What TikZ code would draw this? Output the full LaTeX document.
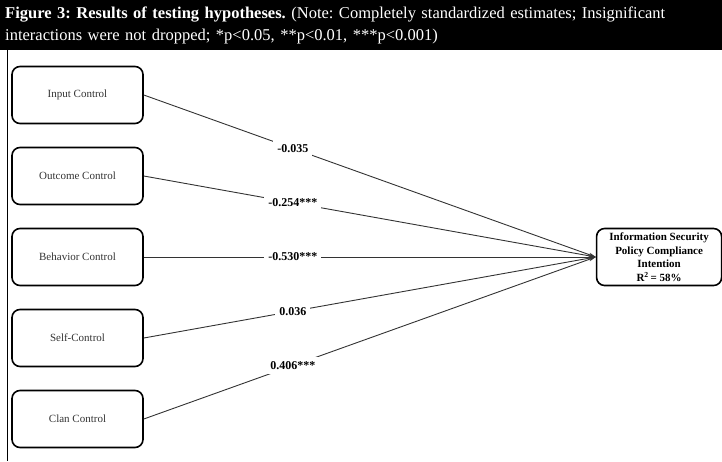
\documentclass[tikz,border=0pt]{standalone}
\usepackage{fontspec}
\setmainfont{Liberation Serif}
\usetikzlibrary{arrows.meta,positioning}

\begin{document}
\frenchspacing
\begin{tikzpicture}[
    x=1pt, y=-1pt,
    node distance=22.4pt,
    every node/.style={font=\fontsize{11}{13}\selectfont, align=center},
    ctrl/.style={
      rectangle, rounded corners=8pt, draw=black, line width=1.6pt,
      minimum width=131pt, minimum height=57pt, text=black!80
    },
    target/.style={
      ctrl, text=black, font=\fontsize{11}{13.5}\selectfont\bfseries,
      minimum width=125pt, inner sep=2pt
    },
    effect/.style={-{Stealth[length=7pt,width=4pt]}, line width=0.9pt, draw=black!80},
    coef/.style={fill=white, font=\fontsize{12}{14}\selectfont\bfseries, inner sep=4pt}
  ]
    \useasboundingbox (0,0) rectangle (722,461);
    \node[anchor=north west, fill=black, text=white, align=left,
      font=\fontsize{16.5}{22}\selectfont, minimum width=722pt, minimum height=50pt,
      text width=712pt, inner xsep=5pt, inner ysep=3pt] (caption) at (0,0)
      {\textbf{Figure 3: Results of testing hypotheses.} (Note: Completely standardized estimates; Insignificant\\
      interactions were not dropped; *p<0.05, **p<0.01, ***p<0.001)};
    \draw[line width=1pt] (7,50) -- (7,461);

    \node[ctrl] (input) at (77.5,95) {Input Control};
    \node[ctrl, below=of input] (outcomectl) {Outcome Control};
    \node[ctrl, below=of outcomectl] (behavior) {Behavior Control};
    \node[ctrl, below=of behavior] (self) {Self-Control};
    \node[ctrl, below=of self] (clan) {Clan Control};
    \node[target, right=452pt of behavior] (ispci) {Information Security\\Policy Compliance\\Intention\\R\textsuperscript{2}\,= 58\%};

    \draw[effect] (input.east) -- node[coef, pos=0.33] {-0.035} (ispci.west);
    \draw[effect] (outcomectl.east) -- node[coef, pos=0.33] {-0.254***} (ispci.west);
    \draw[effect] (behavior.east) -- node[coef, pos=0.33] {-0.530***} (ispci.west);
    \draw[effect] (self.east) -- node[coef, pos=0.33] {0.036} (ispci.west);
    \draw[effect] (clan.east) -- node[coef, pos=0.33] {0.406***} (ispci.west);
  \end{tikzpicture}
\end{document}
